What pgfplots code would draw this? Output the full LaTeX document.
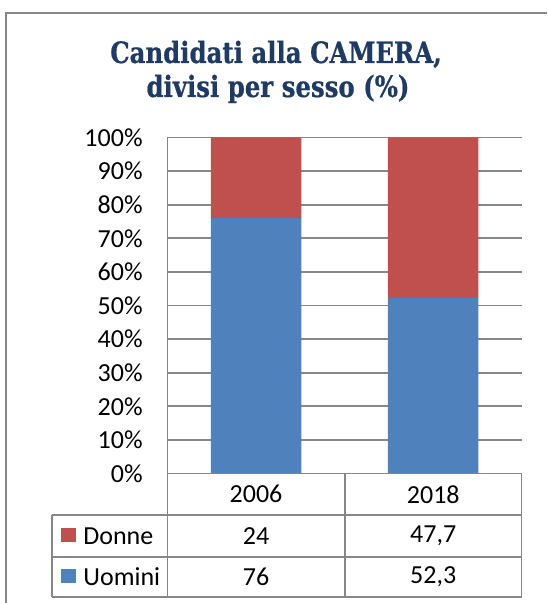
\documentclass[border=0pt]{standalone}
\usepackage{pgfplots}
\pgfplotsset{compat=1.18}
\usepackage{fontspec}
\setmainfont{Carlito}
\newfontfamily\titlefont[FakeStretch=0.83,FakeBold=0.6]{DejaVu Serif}
\definecolor{cred}{HTML}{C0504D}
\definecolor{cblue}{HTML}{4F81BD}
\definecolor{cgrid}{HTML}{868686}
\definecolor{ctitle}{HTML}{1F3A63}
\begin{document}
\begin{tikzpicture}[x=0.5pt,y=0.5pt]
\useasboundingbox (0,0) rectangle (547,603);
\fill[white] (0,0) rectangle (547,603);
% outer frame (left and top visible)
\draw[cgrid,line width=0.75pt] (6,0) -- (6,590) -- (547,590);
% title
\node[anchor=base,text=ctitle,font=\titlefont\fontsize{14.7}{17}\selectfont\bfseries,inner sep=0pt] at (276,540) {Candidati alla CAMERA,};
\node[anchor=base,text=ctitle,font=\titlefont\fontsize{14.7}{17}\selectfont\bfseries,inner sep=0pt] at (278,506) {divisi per sesso (\%)};
\begin{axis}[
  at={(83.75pt,64.75pt)}, anchor=south west,
  scale only axis, width=177pt, height=168pt,
  ybar stacked, bar width=45.25pt,
  xmin=0.5, xmax=2.5, ymin=0, ymax=100,
  axis x line=none,
  axis y line=left, axis line style={cgrid,line width=0.85pt,-},
  ytick={0,10,...,100},
  yticklabels={0\%,10\%,20\%,30\%,40\%,50\%,60\%,70\%,80\%,90\%,100\%},
  yticklabel style={anchor=east,inner sep=0pt,xshift=-12.25pt,font=\fontsize{13}{15}\selectfont},
  major tick length=0pt,
  ymajorgrids, grid style={cgrid,line width=0.85pt},
  clip=false,
]
\addplot[fill=cblue,draw=none] coordinates {(1,76) (2,52.3)};
\addplot[fill=cred,draw=none] coordinates {(1,24) (2,47.7)};
\end{axis}
% data table
\begin{scope}[cgrid,line width=0.85pt]
\draw (167.5,129.5) -- (167.5,6);
\draw (345,129.5) -- (345,6);
\draw (521.5,129.5) -- (521.5,6);
\draw (51.7,88) -- (51.7,6);
\draw (167.5,129.5) -- (521.5,129.5);
\draw (51.7,88) -- (521.5,88);
\draw (51.7,46) -- (521.5,46);
\draw (51.7,6) -- (521.5,6);
\end{scope}
\begin{scope}[every node/.style={font=\fontsize{13}{15}\selectfont,inner sep=0pt}]
\node at (256,108.75) {2006};
\node at (433.25,108.75) {2018};
\fill[cred] (61,61) rectangle (75.7,75);
\fill[cblue] (61,20) rectangle (75.7,34);
\node[anchor=west] at (83,67) {Donne};
\node[anchor=west] at (83,26) {Uomini};
\node at (256,67) {24};
\node at (433.25,67) {47,7};
\node at (256,26) {76};
\node at (433.25,26) {52,3};
\end{scope}
\end{tikzpicture}
\end{document}
